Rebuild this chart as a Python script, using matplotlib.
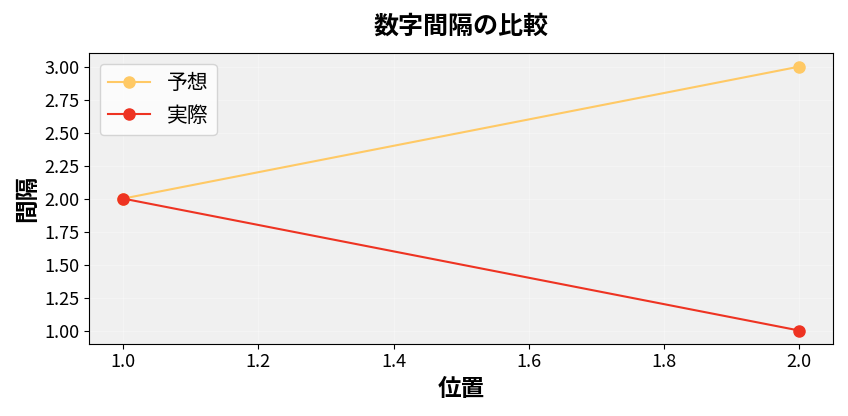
import matplotlib
matplotlib.use('agg')
import matplotlib.pyplot as plt
from matplotlib.ticker import MultipleLocator

plt.rcParams['font.family'] = ['Noto Sans CJK JP', 'DejaVu Sans']

positions = [1, 2]
expected = [2, 3]
actual = [2, 1]

fig, ax = plt.subplots(figsize=(8.48, 4.16), dpi=100)
ax.set_facecolor('#f0f0f0')
ax.grid(True, color='white', linewidth=0.8, alpha=0.3)
ax.set_axisbelow(True)

ax.plot(positions, expected, marker='o', color='#ffc965', markersize=8, linewidth=1.5, label='予想')
ax.plot(positions, actual, marker='o', color='#ee3322', markersize=8, linewidth=1.5, label='実際')

ax.set_title('数字間隔の比較', fontsize=18, fontweight='bold', pad=14)
ax.set_xlabel('位置', fontsize=17, fontweight='bold')
ax.set_ylabel('間隔', fontsize=17, fontweight='bold')
ax.yaxis.set_major_locator(MultipleLocator(0.25))
ax.tick_params(labelsize=13)
ax.legend(fontsize=15, loc='upper left')

fig.tight_layout()
fig.savefig('out.png')
